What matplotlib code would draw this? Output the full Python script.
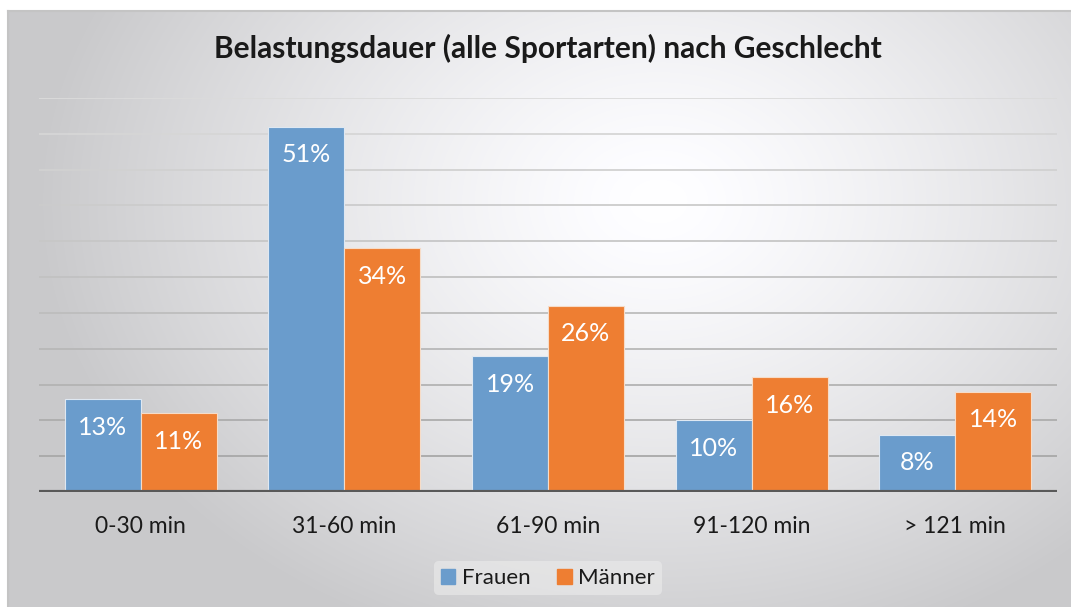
import numpy as np
import matplotlib.pyplot as plt
from matplotlib.patches import Patch

categories = ["0-30 min", "31-60 min", "61-90 min", "91-120 min", "> 121 min"]
frauen = [13, 51, 19, 10, 8]
maenner = [11, 34, 26, 16, 14]
series_names = ["Frauen", "Männer"]

BLUE = "#6a9ccc"
ORANGE = "#ee7e32"
FONT = ["Lato", "DejaVu Sans"]
plt.rcParams["font.family"] = FONT

W, H = 1071, 607
fig = plt.figure(figsize=(W / 100, H / 100), dpi=100)
fig.patch.set_facecolor("white")

# radial grey background of the chart frame
bg = fig.add_axes([8 / W, 0, 1 - 8 / W, 1 - 11 / H], zorder=0)
yy, xx = np.mgrid[0:596, 0:1063]
r = np.hypot((xx - 650) / 620, (yy - 190) / 470)
shade = 1.0 - 0.21 * np.clip(r, 0, 1) ** 1.3
bg.imshow(np.dstack([shade, shade, shade * 1.01]).clip(0, 1), aspect="auto",
          extent=(0, 1, 0, 1), interpolation="bilinear")
bg.set_xticks([]); bg.set_yticks([])
for s in ["right", "bottom"]:
    bg.spines[s].set_visible(False)
for s in ["left", "top"]:
    bg.spines[s].set_color("#c4c4c4"); bg.spines[s].set_linewidth(1.5)

ax = fig.add_axes([39 / W, 1 - 492 / H, (1057 - 39) / W, (492 - 98) / H], zorder=1)
ax.patch.set_alpha(0)

x = np.arange(len(categories))
bw = 0.373
b1 = ax.bar(x - bw / 2, frauen, bw, color=BLUE, edgecolor="#dfe8f2", lw=0.8, zorder=3)
b2 = ax.bar(x + bw / 2, maenner, bw, color=ORANGE, edgecolor="#f6dcc8", lw=0.8, zorder=3)

for bars, vals in [(b1, frauen), (b2, maenner)]:
    for b, v in zip(bars, vals):
        ax.annotate(f"{v}%", (b.get_x() + b.get_width() / 2, v),
                    textcoords="offset points", xytext=(0, -12), ha="center",
                    va="top", color="white", fontsize=18, zorder=4)

# gridlines, lighter toward the top
for i, g in enumerate(range(5, 60, 5)):
    c = 0.66 + 0.2 * i / 10
    ax.axhline(g, color=(c, c, c), lw=1.3, zorder=1)
ax.axhline(0, color="#595959", lw=3, zorder=5)

ax.set_xlim(-0.5, 4.5)
ax.set_ylim(0, 55)
ax.set_yticks([])
ax.set_xticks(x)
ax.set_xticklabels(categories, fontsize=16.5, color="#1a1a1a")
ax.tick_params(axis="x", length=0, pad=17)
for s in ax.spines.values():
    s.set_visible(False)

fig.text(548 / W, 1 - 48 / H, "Belastungsdauer (alle Sportarten) nach Geschlecht",
         ha="center", va="center", fontsize=21.5, fontweight="bold", color="#1a1a1a")

handles = [Patch(color=BLUE), Patch(color=ORANGE)]
leg = fig.legend(handles, series_names, loc="center", bbox_to_anchor=(548 / W, 1 - 578 / H),
                 ncol=2, frameon=True, fontsize=16, handlelength=0.65, handleheight=0.65,
                 handletextpad=0.3, columnspacing=1.2, borderpad=0.3)
leg.get_frame().set_facecolor("#ececec")
leg.get_frame().set_edgecolor("none")
leg.get_frame().set_alpha(0.6)
for t in leg.get_texts():
    t.set_color("#1a1a1a")

fig.savefig("out.png", dpi=100)
